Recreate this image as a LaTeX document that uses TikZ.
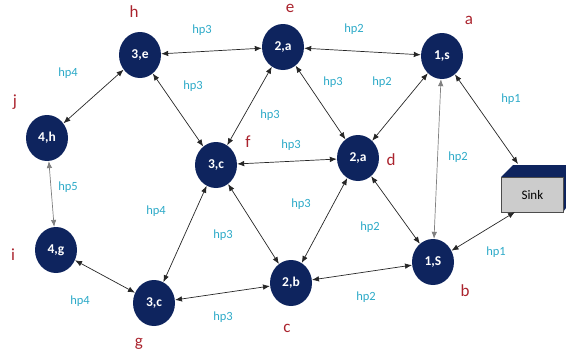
\documentclass[tikz,border=0pt]{standalone}
\usepackage{fontspec}
\setmainfont{Carlito}
\usetikzlibrary{arrows.meta,shapes.geometric}
\definecolor{navy}{RGB}{14,36,94}
\definecolor{hpc}{RGB}{45,170,200}
\definecolor{lab}{RGB}{170,35,45}
\begin{document}
\begin{tikzpicture}[x=1pt,y=-1pt,
  nd/.style={ellipse,fill=navy,text=white,font=\bfseries\fontsize{13.5}{13.5}\selectfont,minimum width=42pt,minimum height=46pt,inner sep=0pt},
  hp/.style={text=hpc,font=\fontsize{12.5}{12.5}\selectfont},
  lb/.style={text=lab,inner sep=0pt,font=\fontsize{17}{17}\selectfont},
  link/.style={{Latex[length=7pt,width=5.5pt]}-{Latex[length=7pt,width=5.5pt]},line width=0.7pt,draw=black!85},
  glink/.style={link,draw=black!50}]
\useasboundingbox (0,0) rectangle (566,356);
% nodes
\node[nd] (n3e) at (140,55) {3,e};
\node[nd] (n2ae) at (283,47) {2,a};
\node[nd] (n1a) at (442,56) {1,s};
\node[nd] (n4h) at (47,138) {4,h};
\node[nd] (n3f) at (216,165) {3,c};
\node[nd] (n2d) at (358,158) {2,a};
\node[nd] (n4g) at (56,250) {4,g};
\node[nd] (n3g) at (154,303) {3,c};
\node[nd] (n2b) at (291,283) {2,b};
\node[nd] (n1b) at (433,262) {1,S};
% sink
\fill[navy] (501,177) -- (513,165) -- (566,165) -- (566,208) -- (563,212) -- (563,177) -- cycle;
\node[draw=black!70,fill=black!20,line width=0.8pt,minimum width=62pt,minimum height=35pt,anchor=north west,inner sep=0pt,font=\fontsize{13}{13}\selectfont] (sink) at (501,177) {Sink};
\coordinate (sinktop) at (518,164);
\coordinate (sinkbot) at (515,212);
% links
\draw[link] (n3e) -- (n2ae);
\draw[link] (n2ae) -- (n1a);
\draw[link] (n3e) -- (n4h);
\draw[link] (n3e) -- (n3f);
\draw[link] (n2ae) -- (n3f);
\draw[link] (n2ae) -- (n2d);
\draw[link] (n1a) -- (n2d);
\draw[glink] (n1a) -- (n1b);
\draw[link] (n1a) -- (sinktop);
\draw[link] (n3f) -- (n2d);
\draw[glink] (n4h) -- (n4g);
\draw[link] (n3f) -- (n3g);
\draw[link] (n3f) -- (n2b);
\draw[link] (n2d) -- (n2b);
\draw[link] (n2d) -- (n1b);
\draw[link] (n4g) -- (n3g);
\draw[link] (n3g) -- (n2b);
\draw[link] (n2b) -- (n1b);
\draw[link] (n1b) -- (sinkbot);
% hop labels
\node[hp] (h1) at (202,30) {hp3};
\node[hp] (h2) at (68,73) {hp4};
\node[hp] (h3) at (193,86) {hp3};
\node[hp] (h4) at (270,115) {hp3};
\node[hp] (h5) at (354,29) {hp2};
\node[hp] (h6) at (333,82) {hp3};
\node[hp] (h7) at (382,82) {hp2};
\node[hp] (h8) at (511,99) {hp1};
\node[hp] (h9) at (291,145) {hp3};
\node[hp] (h10) at (458,157) {hp2};
\node[hp] (h11) at (68,187) {hp5};
\node[hp] (h12) at (156,211) {hp4};
\node[hp] (h13) at (301,204) {hp3};
\node[hp] (h14) at (223,235) {hp3};
\node[hp] (h15) at (370,227) {hp2};
\node[hp] (h16) at (496,252) {hp1};
\node[hp] (h17) at (80,301) {hp4};
\node[hp] (h18) at (223,317) {hp3};
\node[hp] (h19) at (366,297) {hp2};
% letters
\node[lb] (la) at (469,20) {a};
\node[lb] (lbb) at (465,291) {b};
\node[lb] (lc) at (287,328) {c};
\node[lb] (ld) at (391,160) {d};
\node[lb] (le) at (290,8) {e};
\node[lb] (lf) at (248,142) {f};
\node[lb] (lg) at (139,344) {g};
\node[lb] (lh) at (134,12) {h};
\node[lb] (li) at (13,255) {i};
\node[lb] (lj) at (15,102) {j};
\end{tikzpicture}
\end{document}
